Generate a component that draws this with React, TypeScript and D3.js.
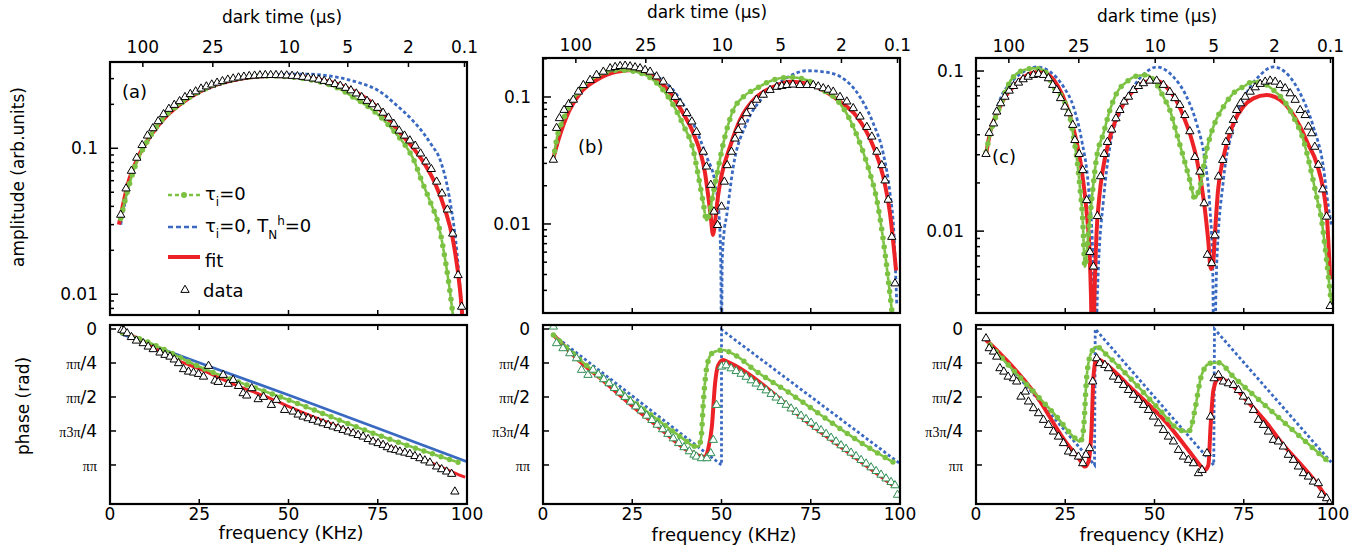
import React from 'react'
import * as d3 from 'd3'

type Pt = [number, number]

// frequency axis (kHz) and the dark time labels on the top axis
const freqTicks = [0, 25, 50, 75, 100]
const darkTimeLabels = ['100', '25', '10', '5', '2', '0.1']
const darkTimeFreq = [9.2, 28.8, 50.2, 66.6, 83.6, 99.3]

// phase ticks in units of pi
const phaseTicks = [0, -0.25, -0.5, -0.75, -1]
const phaseTickLabels: [string, string][] = [['', '0'], ['ππ', '/4'], ['ππ', '/2'], ['π3π', '/4'], ['ππ', '']]

// ---- panel (a) amplitude  [kHz, arb.units]
const ampA_data: Pt[] = [
  [3, 0.035], [4.5, 0.053], [6, 0.07], [7.5, 0.086], [9, 0.105], [10.5, 0.122], [12, 0.137], [13.5, 0.153],
  [15, 0.171], [16.5, 0.186], [18, 0.198], [19.5, 0.21], [21, 0.224], [22.5, 0.235], [24, 0.245], [25.5, 0.256],
  [27, 0.265], [28.5, 0.273], [30, 0.281], [31.5, 0.288], [33, 0.295], [34.5, 0.3], [36, 0.305], [37.5, 0.309],
  [39, 0.312], [40.5, 0.314], [42, 0.316], [43.5, 0.317], [45, 0.317], [46.5, 0.317], [48, 0.316], [49.5, 0.315],
  [51, 0.313], [52.5, 0.311], [54, 0.308], [55.5, 0.304], [57, 0.3], [58.5, 0.295], [60, 0.289], [61.5, 0.283],
  [63, 0.275], [64.5, 0.268], [66, 0.259], [67.5, 0.249], [69, 0.237], [70.5, 0.224], [72, 0.211], [73.5, 0.2],
  [75, 0.189], [76.5, 0.175], [78, 0.162], [79.5, 0.147], [81, 0.132], [82.5, 0.122], [84, 0.113], [85.5, 0.104],
  [87, 0.092], [88.5, 0.081], [90, 0.072], [91.5, 0.059], [93, 0.049], [94.5, 0.038], [96, 0.026], [97.5, 0.0135],
  [98.5, 0.0082],
]
const ampA_fit: Pt[] = [
  [2.5, 0.03], [5, 0.057], [8, 0.088], [12, 0.128], [16, 0.168], [20, 0.203], [25, 0.243], [30, 0.274], [35, 0.295],
  [40, 0.308], [45, 0.313], [50, 0.312], [55, 0.305], [60, 0.291], [65, 0.268], [70, 0.234], [75, 0.19], [80, 0.138],
  [85, 0.1], [88, 0.079], [91, 0.058], [94, 0.037], [96, 0.024], [98, 0.011], [99.5, 0.004],
]
const ampA_tau: Pt[] = [
  [3, 0.033], [5, 0.052], [7, 0.075], [10, 0.107], [13, 0.14], [16, 0.171], [20, 0.204], [25, 0.244], [30, 0.275],
  [35, 0.298], [40, 0.31], [45, 0.313], [50, 0.309], [55, 0.298], [60, 0.28], [65, 0.25], [68, 0.225], [72, 0.195],
  [76, 0.162], [80, 0.127], [82.2, 0.109], [85, 0.084], [87.3, 0.06], [89.6, 0.0436], [92, 0.03], [93.8, 0.0178],
  [95.7, 0.0085], [96.8, 0.005],
]
const ampA_tauTn: Pt[] = [
  [3, 0.03], [6, 0.066], [10, 0.11], [15, 0.165], [20, 0.205], [25, 0.243], [30, 0.272], [35, 0.295], [40, 0.31],
  [45, 0.318], [50, 0.322], [55, 0.322], [60, 0.316], [65, 0.302], [70, 0.28], [75, 0.25], [80, 0.2], [85, 0.153],
  [88, 0.125], [90, 0.106], [92.5, 0.083], [95, 0.047], [97.5, 0.016], [98.6, 0.007], [99.3, 0.003],
]

// ---- panel (b) amplitude
const ampB_data: Pt[] = [
  [2.9, 0.032], [3.8, 0.057], [4.6, 0.068], [5.9, 0.079], [7.2, 0.088], [8.5, 0.095], [9.9, 0.11], [11.3, 0.124],
  [13.2, 0.136], [15, 0.149], [16.9, 0.158], [18.8, 0.168], [20.2, 0.172], [21.6, 0.175], [23, 0.176], [24.4, 0.174],
  [25.8, 0.171], [27.2, 0.168], [28.6, 0.163], [30, 0.158], [31.8, 0.145], [33.7, 0.132], [35.6, 0.113], [37, 0.1],
  [38.4, 0.089], [40.3, 0.0745], [41.7, 0.064], [43, 0.053], [44.9, 0.037], [45.8, 0.0283], [47, 0.0203],
  [47.9, 0.0125], [48.9, 0.0098], [50, 0.0137], [50.8, 0.0215], [51.6, 0.029], [52.8, 0.037], [53.8, 0.047],
  [54.7, 0.055], [55.7, 0.064], [57, 0.0744], [58.4, 0.085], [59.8, 0.095], [61.7, 0.104], [63.6, 0.1135],
  [65.5, 0.12], [66.9, 0.122], [68.3, 0.124], [70, 0.125], [72, 0.124], [74, 0.124], [75.7, 0.124], [77.1, 0.121],
  [78.5, 0.117], [79.9, 0.114], [81.3, 0.11], [83.2, 0.1], [85.1, 0.092], [86.9, 0.0815], [88.8, 0.07],
  [90.7, 0.058], [92.1, 0.0487], [93.5, 0.037], [94.9, 0.029], [95.8, 0.022], [96.7, 0.0155], [97.7, 0.0079],
  [98.6, 0.0034],
]
const ampB_fit: Pt[] = [
  [2.9, 0.033], [3.8, 0.041], [6.6, 0.07], [10.4, 0.107], [15, 0.136], [20.6, 0.158], [25.3, 0.163], [30, 0.149],
  [34.6, 0.117], [39.3, 0.074], [42.1, 0.052], [45.4, 0.025], [47, 0.0114], [47.6, 0.0082], [48.3, 0.011],
  [49, 0.0164], [50, 0.024], [52.4, 0.0407], [55.2, 0.066], [59.8, 0.1], [64.5, 0.12], [69.2, 0.132], [73.9, 0.128],
  [78.5, 0.113], [83.2, 0.092], [87.9, 0.07], [92.5, 0.041], [95.3, 0.0236], [97.2, 0.0121], [98.9, 0.0043],
]
const ampB_tau: Pt[] = [
  [2.9, 0.032], [3.6, 0.043], [6, 0.07], [10, 0.11], [15, 0.145], [21.6, 0.163], [26, 0.158], [30.9, 0.136],
  [35.6, 0.095], [39.3, 0.06], [42.1, 0.038], [43.5, 0.024], [44.9, 0.0146], [45.8, 0.0107], [46.6, 0.012],
  [47.5, 0.0164], [48.6, 0.0236], [50.5, 0.043], [53.3, 0.079], [56.1, 0.1], [59.8, 0.117], [64.5, 0.136],
  [69.2, 0.143], [73.9, 0.136], [78.5, 0.113], [82.3, 0.095], [86, 0.066], [88.8, 0.043], [91.6, 0.025],
  [93.5, 0.0155], [95.3, 0.0075], [97.7, 0.0021],
]
const ampB_tauTn: Pt[] = [
  [2.9, 0.032], [6, 0.068], [10, 0.11], [15, 0.145], [22.5, 0.168], [28, 0.163], [32, 0.145], [36.5, 0.113],
  [42.1, 0.062], [45.8, 0.034], [48.2, 0.021], [49.3, 0.012], [49.8, 0.005], [50, 0.001], [50.2, 0.005],
  [50.7, 0.0085], [51.4, 0.0114], [53.3, 0.0283], [57, 0.062], [61.7, 0.1], [67.3, 0.136], [73.9, 0.161],
  [78.5, 0.158], [83.2, 0.145], [88.8, 0.1], [92.5, 0.062], [95.3, 0.036], [97.2, 0.0175], [98.3, 0.0084],
  [99.1, 0.0023],
]

// ---- panel (c) amplitude
const ampC_data: Pt[] = [
  [2.8, 0.0303], [3.7, 0.041], [4.9, 0.047], [5.8, 0.0557], [6.9, 0.0628], [8.1, 0.069], [9.3, 0.0753],
  [10.5, 0.0805], [11.9, 0.0845], [13.2, 0.0887], [14.6, 0.092], [16.1, 0.0944], [17.5, 0.0958], [18.9, 0.0944],
  [20.3, 0.09], [21.5, 0.0818], [22.6, 0.076], [23.7, 0.0676], [24.9, 0.0598], [25.9, 0.0544], [27.1, 0.046],
  [27.7, 0.037], [28.9, 0.0303], [29.9, 0.024], [31, 0.0156], [31.9, 0.0074], [32.9, 0.006], [34, 0.0124],
  [34.9, 0.022], [35.9, 0.0303], [36.8, 0.036], [38, 0.043], [39.2, 0.0506], [40.3, 0.057], [41.5, 0.0643],
  [42.7, 0.069], [44.1, 0.076], [45.5, 0.0805], [46.9, 0.0838], [48.7, 0.087], [50.6, 0.087], [52.5, 0.0818],
  [54.3, 0.074], [55.7, 0.0676], [57.1, 0.0613], [58.5, 0.053], [59.9, 0.042], [61.3, 0.029], [62.7, 0.0235],
  [63.9, 0.0149], [64.8, 0.0071], [66, 0.0063], [66.9, 0.0094], [67.9, 0.0219], [69.1, 0.0278], [70, 0.036],
  [71, 0.042], [72.1, 0.0494], [73, 0.057], [74.1, 0.0628], [75.4, 0.069], [76.8, 0.0742], [78.2, 0.079],
  [79.6, 0.083], [81, 0.0857], [82.4, 0.087], [83.8, 0.0857], [85.2, 0.0818], [86.6, 0.078], [88, 0.0725],
  [89.4, 0.066], [90.8, 0.057], [92.2, 0.053], [93.1, 0.0449], [94, 0.0408], [94.9, 0.0336], [95.9, 0.0259],
  [97.1, 0.0182], [98.2, 0.0123], [99.2, 0.0034],
]
const ampC_fit: Pt[] = [
  [2.8, 0.03], [4, 0.042], [6, 0.055], [8, 0.068], [10.5, 0.08], [13, 0.09], [15.5, 0.097], [18, 0.099],
  [20.5, 0.094], [23, 0.08], [25.5, 0.06], [27.5, 0.042], [29.5, 0.025], [31, 0.013], [31.8, 0.0075],
  [32.2, 0.004], [32.7, 0.001], [33.2, 0.004], [33.7, 0.009], [34.5, 0.016], [35.5, 0.024], [37, 0.035],
  [39.5, 0.052], [42, 0.066], [45, 0.079], [48, 0.086], [50.5, 0.087], [53, 0.081], [55.5, 0.069], [58, 0.053],
  [60, 0.04], [62, 0.027], [63.9, 0.015], [65, 0.009], [65.8, 0.0058], [66.4, 0.0062], [66.9, 0.0094],
  [67.8, 0.018], [69.3, 0.029], [72.1, 0.047], [74.9, 0.06], [77.7, 0.0675], [81.4, 0.0708], [85.2, 0.066],
  [88, 0.057], [90.8, 0.0449], [93, 0.035], [95.4, 0.0266], [98.2, 0.0129], [99.2, 0.005],
]
const ampC_tau: Pt[] = [
  [2.8, 0.031], [3.9, 0.04], [6.7, 0.06], [9.5, 0.0857], [12.3, 0.099], [16.1, 0.104], [18.9, 0.1015],
  [21.7, 0.08], [24.5, 0.066], [26.3, 0.0518], [27.3, 0.0389], [28.2, 0.029], [29.1, 0.0189], [29.9, 0.0117],
  [30.5, 0.006], [31.5, 0.0097], [32.4, 0.0156], [33.8, 0.029], [35.7, 0.0408], [37.5, 0.057], [39.4, 0.0726],
  [42.2, 0.0857], [45, 0.093], [47.8, 0.0944], [49.7, 0.0879], [52.5, 0.069], [54.3, 0.057], [56.2, 0.0408],
  [58.1, 0.029], [59.9, 0.0208], [61.3, 0.016], [62.7, 0.0189], [64.6, 0.0321], [66.5, 0.0449], [69.3, 0.0598],
  [72.1, 0.0726], [74.9, 0.0798], [77.7, 0.0857], [80.5, 0.0838], [83.3, 0.076], [86.1, 0.066], [88.9, 0.0518],
  [91.7, 0.037], [93.6, 0.0252], [95.4, 0.0164], [96.8, 0.0117], [98.2, 0.0066], [99.6, 0.0034],
]
const ampC_tauTn: Pt[] = [
  [2.8, 0.031], [6.7, 0.066], [10.5, 0.0879], [14.2, 0.1015], [17, 0.106], [20.7, 0.099], [24.5, 0.0798],
  [27.3, 0.0598], [29.6, 0.037], [31.5, 0.0189], [32.7, 0.0073], [33.3, 0.001], [34, 0.004], [34.3, 0.006],
  [35.7, 0.0156], [37.5, 0.0337], [40.3, 0.0544], [44.1, 0.0798], [47.8, 0.099], [50.6, 0.106], [55.3, 0.092],
  [59, 0.069], [61.8, 0.047], [64.1, 0.0278], [65.5, 0.0142], [66.3, 0.006], [66.7, 0.001], [67.2, 0.004],
  [67.4, 0.006], [69.3, 0.0208], [72.1, 0.0449], [75.8, 0.0726], [79.6, 0.0944], [83.3, 0.106], [87, 0.0967],
  [90.8, 0.0726], [94.5, 0.0449], [97.3, 0.0252], [98.7, 0.0142], [99.6, 0.0108],
]

// ---- phase, in units of pi  [kHz, phase/pi]
const phA_data: Pt[] = [
  [3.3, -0.007], [3.9, -0.012], [4.8, -0.032], [6, -0.06], [7.4, -0.086], [9.3, -0.105], [10.7, -0.13],
  [12.1, -0.149], [14, -0.174], [15.4, -0.191], [16.8, -0.204], [18, -0.225], [19.2, -0.252], [20.6, -0.296],
  [22, -0.314], [23.4, -0.321], [24.8, -0.331], [26.2, -0.351], [27.6, -0.272], [29.4, -0.38], [30.3, -0.39],
  [31.7, -0.338], [33.1, -0.404], [34.5, -0.375], [36, -0.42], [37.3, -0.473], [38.3, -0.49], [39.7, -0.436],
  [41.5, -0.517], [43, -0.5], [45.2, -0.559], [46.6, -0.522], [48.9, -0.596], [51.3, -0.608], [52.7, -0.63],
  [54.1, -0.645], [55.5, -0.657], [56.9, -0.669], [58.3, -0.682], [59.7, -0.694], [61.1, -0.706], [62.5, -0.718],
  [63.9, -0.73], [65.3, -0.743], [66.7, -0.755], [68.1, -0.767], [69.5, -0.78], [70.9, -0.792], [72.3, -0.81],
  [73.7, -0.828], [75.1, -0.84], [76.5, -0.853], [77.7, -0.87], [78.8, -0.885], [80, -0.89], [81.2, -0.902],
  [82.6, -0.91], [84, -0.919], [85.4, -0.935], [86.8, -0.951], [88.2, -0.967], [89.6, -0.983], [91.5, -1.012],
  [92.9, -1.032], [94.3, -1.049], [95.7, -1.066], [96.6, -1.196],
]
const phA_fit: Pt[] = [
  [3.3, -0.01], [10, -0.1], [16.7, -0.204], [25.2, -0.295], [34.5, -0.405], [43.9, -0.5], [53.2, -0.606],
  [62.5, -0.704], [71.9, -0.8], [81.2, -0.895], [90.5, -0.99], [97.9, -1.074], [99.5, -1.09],
]
const phA_tau: Pt[] = [[3.5, -0.027], [10, -0.09], [25, -0.277], [50, -0.522], [75, -0.779], [98, -0.985]]
const phA_tauTn: Pt[] = [[3, -0.035], [25, -0.248], [50, -0.485], [75, -0.73], [100, -0.976]]

const phB_data: Pt[] = [
  [2.9, 0.017], [3.8, -0.105], [5.6, -0.142], [7.5, -0.179], [9.4, -0.216], [10.8, -0.301], [12.6, -0.338],
  [14, -0.3], [15.5, -0.335], [17, -0.37], [18.5, -0.4], [20, -0.435], [21.5, -0.468], [23, -0.5], [24.5, -0.535],
  [26, -0.57], [27.5, -0.6], [29, -0.638], [30.5, -0.67], [32, -0.705], [33.5, -0.738], [35, -0.772],
  [36.5, -0.805], [38, -0.84], [39.5, -0.87], [41, -0.9], [42.3, -0.925], [43, -0.939], [44.4, -0.951],
  [45.9, -0.951], [47, -0.914], [47.7, -0.816], [48.6, -0.559], [50, -0.277], [51.3, -0.268], [52.7, -0.29],
  [54.1, -0.31], [55.5, -0.33], [56.9, -0.352], [58.3, -0.378], [59.7, -0.402], [61.1, -0.428], [62.5, -0.452],
  [63.9, -0.478], [65.3, -0.505], [66.7, -0.53], [68.1, -0.558], [69.5, -0.585], [70.9, -0.61], [72.3, -0.638],
  [73.7, -0.663], [75.1, -0.69], [76.5, -0.72], [77.9, -0.745], [79.3, -0.772], [80.7, -0.8], [82.1, -0.828],
  [83.5, -0.856], [84.9, -0.882], [86.3, -0.91], [87.7, -0.936], [89.1, -0.964], [90.5, -0.99], [91.9, -1.018],
  [93.3, -1.045], [94.7, -1.072], [96.1, -1.1], [97.5, -1.126], [98.6, -1.15], [99.3, -1.22],
]
const phB_fit: Pt[] = [
  [2.9, -0.044], [10.4, -0.24], [17.8, -0.4], [25.3, -0.571], [32.8, -0.73], [40.3, -0.89], [42.1, -0.914],
  [44, -0.935], [45.4, -0.939], [46.3, -0.88], [47.3, -0.718], [48.2, -0.4], [49.1, -0.265], [50.5, -0.228],
  [52, -0.245], [75, -0.703], [98.6, -1.16],
]
const phB_tau: Pt[] = [
  [2.9, -0.044], [10.4, -0.228], [17.8, -0.387], [25.3, -0.534], [32.8, -0.681], [40.3, -0.828], [42, -0.86],
  [43.5, -0.865], [44.3, -0.8], [44.9, -0.546], [45.9, -0.277], [47.3, -0.179], [49, -0.16], [50.5, -0.155],
  [53.3, -0.184], [59.9, -0.314], [69.2, -0.473], [78.5, -0.645], [87.9, -0.816], [98.6, -0.988],
]
const phB_tauTn: Pt[] = [[3, -0.045], [50, -1.0], [50, -0.005], [100, -0.99]]

const phC_data: Pt[] = [
  [2.8, -0.069], [3.7, -0.142], [4.9, -0.167], [5.8, -0.204], [6.7, -0.289], [7.8, -0.314], [9, -0.351],
  [10.5, -0.363], [11.4, -0.387], [12.6, -0.498], [13.8, -0.461], [14.7, -0.534], [16.1, -0.583], [17.5, -0.62],
  [18.9, -0.669], [20.3, -0.706], [21.7, -0.755], [23.1, -0.792], [24.5, -0.84], [25.9, -0.902], [27.3, -0.914],
  [28.7, -0.939], [29.9, -0.988], [30.8, -0.926], [31.8, -0.877], [32.7, -0.387], [33.8, -0.216], [34.7, -0.252],
  [36.1, -0.265], [37.1, -0.289], [38.5, -0.351], [39.9, -0.375], [41.3, -0.412], [42.7, -0.449], [44.1, -0.485],
  [45.5, -0.522], [46.9, -0.559], [48.3, -0.596], [49.7, -0.645], [51.1, -0.694], [52.5, -0.743], [53.9, -0.792],
  [55.3, -0.828], [56.7, -0.89], [58.1, -0.939], [59.5, -0.963], [60.9, -0.988], [62.3, -1.061], [63.3, -1.037],
  [64.7, -0.914], [65.7, -0.645], [66.7, -0.363], [67.9, -0.338], [69.3, -0.387], [70.7, -0.4], [72.1, -0.412],
  [73.5, -0.449], [74.9, -0.498], [76.3, -0.534], [77.7, -0.596], [79.1, -0.669], [80.5, -0.706], [81.9, -0.755],
  [83.3, -0.816], [84.7, -0.828], [86.1, -0.865], [87.5, -0.926], [88.9, -0.963], [90.3, -1.012], [91.7, -1.061],
  [93.1, -1.086], [94.5, -1.123], [95.9, -1.135], [96.8, -1.22], [98.2, -1.245], [99, -1.282],
]
const phC_fit: Pt[] = [
  [2.8, -0.081], [6.7, -0.179], [16.1, -0.461], [25.4, -0.84], [29.1, -0.963], [30.5, -1.012], [31.5, -0.976],
  [32.1, -0.85], [32.4, -0.718], [32.9, -0.351], [33.8, -0.216], [34.7, -0.228], [44.1, -0.45], [53.4, -0.69],
  [60.9, -0.939], [62.7, -1.0], [64.1, -1.037], [65.1, -1.0], [65.7, -0.718], [66.5, -0.449], [67.9, -0.363],
  [70, -0.38], [72.1, -0.42], [76, -0.53], [81.4, -0.69], [86, -0.85], [90.8, -0.99], [95, -1.12], [98.7, -1.26],
]
const phC_tau: Pt[] = [
  [3.9, -0.118], [9.5, -0.277], [16.1, -0.461], [22.6, -0.645], [27.3, -0.792], [29.1, -0.828], [29.8, -0.8],
  [30.3, -0.669], [31, -0.351], [32.4, -0.167], [33.8, -0.13], [36.6, -0.191], [44.1, -0.387], [51.5, -0.596],
  [57.1, -0.743], [59.5, -0.755], [60.4, -0.71], [61.3, -0.596], [63.2, -0.338], [65.5, -0.252], [67.9, -0.248],
  [72.1, -0.351], [81.4, -0.571], [90.8, -0.792], [98.7, -0.976],
]
const phC_tauTn: Pt[] = [
  [3, -0.08], [33.2, -1.0], [33.4, 0], [66.6, -1.0], [66.8, 0], [99.5, -0.98],
]

const FONT = 'DejaVu Sans, Verdana, sans-serif'
const SERIF = 'Liberation Serif, DejaVu Serif, serif'
const RED = '#ec2227'
const GREEN = '#7cc242'
const BLUE = '#3a69c1'
const TRI_GREEN = '#2f8f55'

const PLOT_W = 357
const PH_TOP = 325
const PH_BOTTOM = 504

const panels = [
  {
    id: 'a', left: 110, ampTop: 62, ampBottom: 315, ampDomain: [0.00721, 0.39],
    titleX: 282, titleY: 23, topLabelY: 53, freqX: 291, freqY: 539, tag: [122, 98],
    amp: { data: ampA_data, fit: ampA_fit, tau: ampA_tau, tauTn: ampA_tauTn },
    ph: { data: phA_data, fit: phA_fit, tau: phA_tau, tauTn: phA_tauTn },
    solidBluePhase: true, phaseTriColor: 'black',
  },
  {
    id: 'b', left: 543, ampTop: 58, ampBottom: 313, ampDomain: [0.00199, 0.2028],
    titleX: 707, titleY: 18, topLabelY: 51, freqX: 724, freqY: 541, tag: [578, 153],
    amp: { data: ampB_data, fit: ampB_fit, tau: ampB_tau, tauTn: ampB_tauTn },
    ph: { data: phB_data, fit: phB_fit, tau: phB_tau, tauTn: phB_tauTn },
    solidBluePhase: false, phaseTriColor: TRI_GREEN,
  },
  {
    id: 'c', left: 976, ampTop: 58, ampBottom: 313, ampDomain: [0.00308, 0.1206],
    titleX: 1157, titleY: 22, topLabelY: 52, freqX: 1152, freqY: 541, tag: [992, 163],
    amp: { data: ampC_data, fit: ampC_fit, tau: ampC_tau, tauTn: ampC_tauTn },
    ph: { data: phC_data, fit: phC_fit, tau: phC_tau, tauTn: phC_tauTn },
    solidBluePhase: false, phaseTriColor: 'black',
  },
]

const triPath = d3.symbol().type(d3.symbolTriangle).size(30)() as string

const GreenLine = ({ d }: { d: string }) => (
  <g fill='none' stroke={GREEN}>
    <path d={d} strokeWidth={2.6} strokeDasharray='4 5' strokeDashoffset={-2.5} />
    <path d={d} strokeWidth={5.5} strokeLinecap='round' strokeDasharray='0 9' />
  </g>
)

const Panel = ({ p }: { p: (typeof panels)[number] }) => {
  const right = p.left + PLOT_W
  const x = d3.scaleLinear().domain([0, 100]).range([p.left, right])
  const yA = d3.scaleLog().domain(p.ampDomain).range([p.ampBottom, p.ampTop])
  const yP = d3.scaleLinear().domain([0.0294, -1.287]).range([PH_TOP, PH_BOTTOM])

  const ampLine = d3.line<Pt>().x((d) => x(d[0])).y((d) => yA(d[1])).curve(d3.curveMonotoneX)
  const phLine = d3.line<Pt>().x((d) => x(d[0])).y((d) => yP(d[1])).curve(d3.curveMonotoneX)
  const phStraight = d3.line<Pt>().x((d) => x(d[0])).y((d) => yP(d[1]))

  const logTicks = yA.ticks().filter((v) => v >= p.ampDomain[0] && v <= p.ampDomain[1])
  const isMajor = (v: number) => Math.abs(Math.log10(v) - Math.round(Math.log10(v))) < 1e-6
  const innerX = freqTicks.slice(1, 4)

  return (
    <g>
      <defs>
        <clipPath id={`amp-${p.id}`}>
          <rect x={p.left} y={p.ampTop} width={PLOT_W} height={p.ampBottom - p.ampTop} />
        </clipPath>
        <clipPath id={`ph-${p.id}`}>
          <rect x={p.left} y={PH_TOP} width={PLOT_W} height={PH_BOTTOM - PH_TOP} />
        </clipPath>
      </defs>

      {/* amplitude */}
      <g clipPath={`url(#amp-${p.id})`}>
        <path d={ampLine(p.amp.tauTn) as string} fill='none' stroke={BLUE} strokeWidth={2.8} strokeDasharray='3.5 2.5' />
        <path d={ampLine(p.amp.fit) as string} fill='none' stroke={RED} strokeWidth={4} />
        <GreenLine d={ampLine(p.amp.tau) as string} />
        {p.amp.data.map((d, i) => (
          <path key={i} d={triPath} transform={`translate(${x(d[0])},${yA(d[1])})`}
            fill='white' stroke='black' strokeWidth={1} />
        ))}
      </g>

      {/* phase */}
      <g clipPath={`url(#ph-${p.id})`}>
        <path d={phStraight(p.ph.tauTn) as string} fill='none' stroke={BLUE} strokeWidth={2.8}
          strokeDasharray={p.solidBluePhase ? undefined : '3 2.5'} />
        <path d={phLine(p.ph.fit) as string} fill='none' stroke={RED} strokeWidth={p.solidBluePhase ? 3 : 4} />
        <GreenLine d={phLine(p.ph.tau) as string} />
        {p.ph.data.map((d, i) => (
          <path key={i} d={triPath} transform={`translate(${x(d[0])},${yP(d[1])})`}
            fill='white' stroke={p.phaseTriColor} strokeWidth={1} />
        ))}
      </g>

      {/* frames */}
      <rect x={p.left} y={p.ampTop} width={PLOT_W} height={p.ampBottom - p.ampTop} fill='none' stroke='black' strokeWidth={2.2} />
      <rect x={p.left} y={PH_TOP} width={PLOT_W} height={PH_BOTTOM - PH_TOP} fill='none' stroke='black' strokeWidth={2.2} />

      {/* top dark-time axis */}
      {darkTimeFreq.map((f, i) => (
        <g key={i}>
          <line x1={x(f)} x2={x(f)} y1={p.ampTop} y2={p.ampTop + 5} stroke='black' strokeWidth={1.5} />
          <text x={x(f)} y={p.topLabelY} textAnchor='middle' fontSize={17}>{darkTimeLabels[i]}</text>
        </g>
      ))}
      <text x={p.titleX} y={p.titleY} textAnchor='middle' fontSize={17}>dark time (µs)</text>

      {/* inner frequency ticks */}
      {innerX.map((f) => (
        <g key={f} stroke='black' strokeWidth={1.5}>
          <line x1={x(f)} x2={x(f)} y1={p.ampBottom} y2={p.ampBottom - 5} />
          <line x1={x(f)} x2={x(f)} y1={PH_TOP} y2={PH_TOP + 5} />
          <line x1={x(f)} x2={x(f)} y1={PH_BOTTOM} y2={PH_BOTTOM - 5} />
        </g>
      ))}
      {freqTicks.map((f) => (
        <text key={f} x={x(f)} y={520} textAnchor='middle' fontSize={17}>{f}</text>
      ))}
      <text x={p.freqX} y={p.freqY} textAnchor='middle' fontSize={18}>frequency (KHz)</text>

      {/* log amplitude axis */}
      {logTicks.map((v, i) => (
        <g key={i}>
          <line x1={p.left} x2={p.left + (isMajor(v) ? 8 : 4)} y1={yA(v)} y2={yA(v)} stroke='black' strokeWidth={1.5} />
          {isMajor(v) && (
            <text x={p.left - 12} y={yA(v) + 6} textAnchor='end' fontSize={17}>{String(v)}</text>
          )}
        </g>
      ))}

      {/* phase axis */}
      {phaseTicks.map((v, i) => (
        <g key={i}>
          <line x1={p.left} x2={p.left + 6} y1={yP(v)} y2={yP(v)} stroke='black' strokeWidth={1.5} />
          <text x={p.left - 13} y={yP(v) + 6} textAnchor='end' fontSize={17}>
            <tspan fontFamily={SERIF} fontSize={14}>{phaseTickLabels[i][0]}</tspan>
            {phaseTickLabels[i][1]}
          </text>
        </g>
      ))}

      <text x={p.tag[0]} y={p.tag[1]} fontSize={18}>({p.id})</text>
    </g>
  )
}

const Legend = () => {
  const lx1 = 168
  const lx2 = 200
  return (
    <g fontSize={18}>
      <line x1={lx1} x2={lx2} y1={195} y2={195} stroke={GREEN} strokeWidth={2.4} strokeDasharray='4 3' />
      <circle cx={184} cy={195} r={3} fill={GREEN} />
      <text x={205} y={200}>τ<tspan fontSize={12} dy={6}>i</tspan><tspan dy={-6}>=0</tspan></text>

      <line x1={lx1} x2={lx2} y1={227} y2={227} stroke={BLUE} strokeWidth={2.6} strokeDasharray='5 3' />
      <text x={205} y={232}>
        τ<tspan fontSize={12} dy={6}>i</tspan><tspan dy={-6}>=0, T</tspan>
        <tspan fontSize={12} dy={7}>N</tspan><tspan fontSize={12} dy={-14}>h</tspan>
        <tspan dy={7}>=0</tspan>
      </text>

      <line x1={lx1} x2={lx2} y1={257} y2={257} stroke={RED} strokeWidth={4} />
      <text x={205} y={267}>fit</text>

      <path d={triPath} transform='translate(185,290)' fill='white' stroke='black' strokeWidth={1} />
      <text x={203} y={297}>data</text>
    </g>
  )
}

export default function App() {
  return (
    <svg width={1370} height={550} style={{ position: 'absolute', left: 0, top: 0, background: 'white' }}
      fontFamily={FONT}>
      <rect width={1370} height={550} fill='white' />
      {panels.map((p) => <Panel key={p.id} p={p} />)}
      <Legend />
      <text transform='translate(24,177) rotate(-90)' textAnchor='middle' fontSize={17}>amplitude (arb.units)</text>
      <text transform='translate(29,406) rotate(-90)' textAnchor='middle' fontSize={17}>phase (rad)</text>
    </svg>
  )
}
